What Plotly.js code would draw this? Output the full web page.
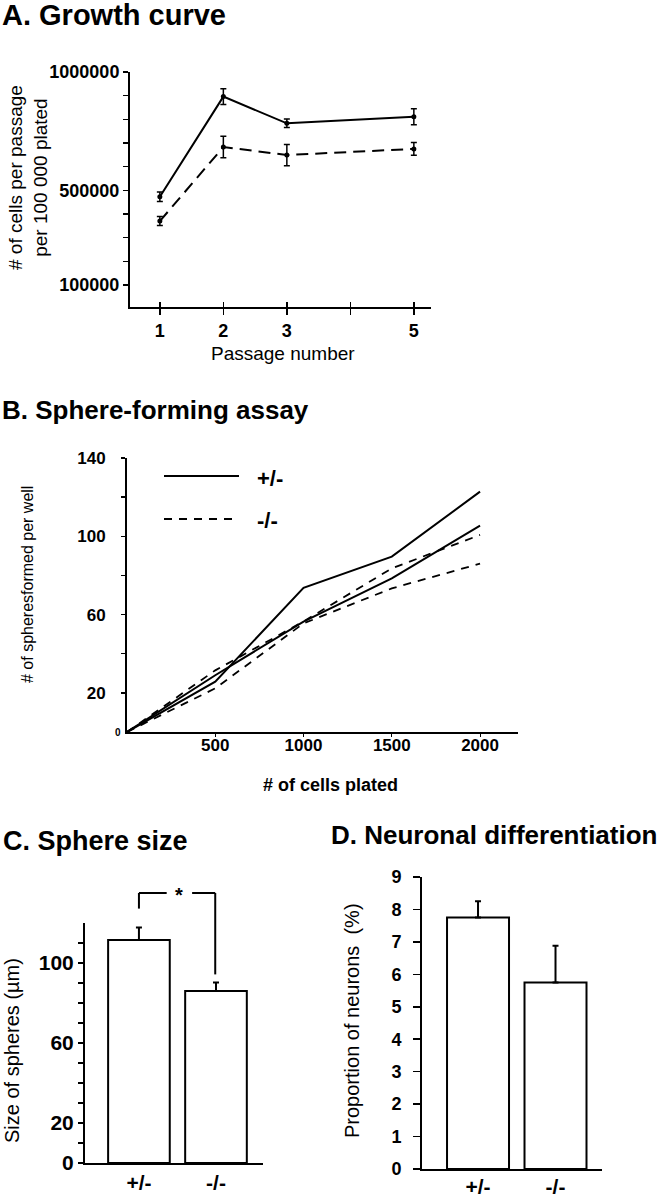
<!DOCTYPE html>
<html>
<head>
<meta charset="utf-8">
<script src="https://cdn.plot.ly/plotly-3.0.1.min.js"></script>
<style>
  body { margin: 0; background: #fff; }
  #chart { width: 660px; height: 1200px; }
</style>
</head>
<body>
<div id="chart"></div>
<script>
// A. Growth curve
var passage = [1, 2, 3, 5];
var growthHet = [473000, 896000, 783000, 811000];
var growthHetErr = [20000, 33000, 18000, 34000];
var growthKo = [370000, 683000, 649000, 675000];
var growthKoErr = [19000, 45000, 45000, 27000];
var passageTicks = [1, 2, 3, 4, 5];
var passageLabels = ['1', '2', '3', '', '5'];
var growthTicks = [100000, 200000, 300000, 400000, 500000, 600000, 700000, 800000, 900000, 1000000];
var growthLabels = ['100000', '', '', '', '500000', '', '', '', '', '1000000'];

// B. Sphere-forming assay
var cellsPlated = [0, 500, 1000, 1500, 2000];
var spheresHet1 = [0, 25.7, 73.7, 89.6, 122.8];
var spheresHet2 = [0, 29, 56.4, 78.5, 105.4];
var spheresKo1 = [0, 31.5, 56.5, 83.6, 100.7];
var spheresKo2 = [0, 22.3, 55.5, 73.4, 86];
var cellTicks = [500, 1000, 1500, 2000];
var sphereTicks = [20, 40, 60, 80, 100, 120, 140];
var sphereLabels = ['20', '', '60', '', '100', '', '140'];

// C. Sphere size / D. Neuronal differentiation
var genotypes = ['+/-', '-/-'];
var sphereSize = [111.5, 86];
var sphereSizeErr = [6.2, 4.3];
var sizeTicks = [0, 10, 20, 30, 40, 50, 60, 70, 80, 90, 100, 110];
var sizeLabels = ['0', '', '20', '', '', '', '60', '', '', '', '100', ''];
var neuronPct = [7.75, 5.75];
var neuronPctErr = [0.5, 1.13];

var F = 'Liberation Sans, Arial, Helvetica, sans-serif';
var W = 660, H = 1200;
function px(x) { return x / W; }
function py(y) { return 1 - y / H; }

var black = '#000';

var traces = [
  {
    x: passage, y: growthHet, xaxis: 'x', yaxis: 'y', mode: 'lines+markers',
    line: { color: black, width: 2 }, marker: { color: black, size: 5 },
    error_y: { type: 'data', array: growthHetErr, color: black, thickness: 1.5, width: 3 }
  },
  {
    x: passage, y: growthKo, xaxis: 'x', yaxis: 'y', mode: 'lines+markers',
    line: { color: black, width: 2, dash: '12px,7px' }, marker: { color: black, size: 5 },
    error_y: { type: 'data', array: growthKoErr, color: black, thickness: 1.5, width: 3 }
  },
  { x: [], y: [], xaxis: 'x5', yaxis: 'y', mode: 'lines' },
  {
    x: cellsPlated, y: spheresHet1, xaxis: 'x2', yaxis: 'y2', mode: 'lines',
    line: { color: black, width: 2 }
  },
  {
    x: cellsPlated, y: spheresHet2, xaxis: 'x2', yaxis: 'y2', mode: 'lines',
    line: { color: black, width: 2 }
  },
  {
    x: cellsPlated, y: spheresKo1, xaxis: 'x2', yaxis: 'y2', mode: 'lines',
    line: { color: black, width: 1.8, dash: '8px,7px' }
  },
  {
    x: cellsPlated, y: spheresKo2, xaxis: 'x2', yaxis: 'y2', mode: 'lines',
    line: { color: black, width: 1.8, dash: '8px,7px' }
  },
  {
    type: 'bar', x: genotypes, y: sphereSize, xaxis: 'x3', yaxis: 'y3', width: 0.8,
    marker: { color: '#fff', line: { color: black, width: 2 } },
    error_y: { type: 'data', symmetric: false, array: sphereSizeErr, arrayminus: [0, 0],
               color: black, thickness: 2, width: 3 }
  },
  {
    type: 'bar', x: genotypes, y: neuronPct, xaxis: 'x4', yaxis: 'y4', width: 0.8,
    marker: { color: '#fff', line: { color: black, width: 2 } },
    error_y: { type: 'data', symmetric: false, array: neuronPctErr, arrayminus: [0, 0],
               color: black, thickness: 2, width: 3 }
  }
];

function axis(extra) {
  var base = {
    showgrid: false, zeroline: false, showline: true, linecolor: black, linewidth: 2,
    ticks: 'outside', tickcolor: black, tickwidth: 1.5, ticklen: 5,
    tickfont: { family: F, size: 18, weight: 'bold', color: black }
  };
  for (var k in extra) base[k] = extra[k];
  return base;
}

var layout = {
  width: W, height: H,
  margin: { l: 0, r: 0, t: 0, b: 0 },
  paper_bgcolor: '#fff', plot_bgcolor: 'rgba(0,0,0,0)',
  showlegend: false,
  font: { family: F, color: black },
  xaxis: axis({ domain: [px(130), px(431)], range: [0.53, 5.27], anchor: 'y',
    tickmode: 'array', tickvals: passageTicks, ticktext: passageLabels, ticklen: 6, ticklabelstandoff: 0 }),
  xaxis5: axis({ domain: [px(130), px(431)], range: [0.53, 5.27], anchor: 'y', overlaying: 'x',
    tickmode: 'array', tickvals: passageTicks, ticks: 'inside', ticklen: 5, showticklabels: false, showline: false }),
  yaxis: axis({ domain: [py(307), py(72)], range: [7000, 1000000], anchor: 'x',
    tickmode: 'array', tickvals: growthTicks, ticktext: growthLabels, ticklen: 5 }),
  xaxis2: axis({ domain: [px(127), px(518)], range: [0, 2215], anchor: 'y2',
    tickmode: 'array', tickvals: cellTicks, ticklen: 3, tickwidth: 1,
    tickfont: { family: F, size: 17, weight: 'bold', color: black }, ticklabelstandoff: -6 }),
  yaxis2: axis({ domain: [py(732), py(458)], range: [0, 140], anchor: 'x2',
    tickmode: 'array', tickvals: sphereTicks, ticktext: sphereLabels, ticklen: 4,
    tickfont: { family: F, size: 17, weight: 'bold', color: black }, ticklabelstandoff: 12 }),
  xaxis3: axis({ domain: [px(85), px(263)], range: [-0.70, 1.61], anchor: 'y3', type: 'category',
    ticks: '', tickfont: { family: F, size: 21, weight: 'bold', color: black }, ticklabelstandoff: 0 }),
  yaxis3: axis({ domain: [py(1163), py(923)], range: [0, 120], anchor: 'x3',
    tickmode: 'array', tickvals: sizeTicks, ticktext: sizeLabels, ticklen: 5,
    tickfont: { family: F, size: 21, weight: 'bold', color: black } }),
  xaxis4: axis({ domain: [px(422), px(602)], range: [-0.723, 1.6], anchor: 'y4', type: 'category',
    ticks: '', tickfont: { family: F, size: 21, weight: 'bold', color: black }, ticklabelstandoff: -2 }),
  yaxis4: axis({ domain: [py(1169), py(877)], range: [0, 9], anchor: 'x4',
    tickmode: 'linear', tick0: 0, dtick: 1, ticklen: 7,
    tickfont: { family: F, size: 18, weight: 'bold', color: black }, ticklabelstandoff: 8 })
};

// paper y of a value on the sphere-size axis, for the significance bracket
function sizeToPaper(v) {
  var d = layout.yaxis3.domain, r = layout.yaxis3.range;
  return d[0] + (v - r[0]) / (r[1] - r[0]) * (d[1] - d[0]);
}
var bracketTop = 135;
var leftLegBottom = sphereSize[0] + sphereSizeErr[0] + 9.5;
var rightLegBottom = sphereSize[1] + sphereSizeErr[1] + 4;

function seg(x0, y0, x1, y1, dash, w, xref) {
  return { type: 'line', xref: xref || 'paper', yref: 'paper', x0: x0, y0: y0, x1: x1, y1: y1,
           line: { color: black, width: w || 2, dash: dash || 'solid' } };
}

layout.shapes = [
  // legend samples for panel B
  seg(px(164), py(476), px(239), py(476), 'solid', 2),
  seg(px(164), py(519), px(234), py(519), '8px,7px', 1.8),
  // significance bracket for panel C
  seg(0, sizeToPaper(leftLegBottom), 0, sizeToPaper(bracketTop), 'solid', 2, 'x3'),
  seg(0, sizeToPaper(bracketTop), 0.36, sizeToPaper(bracketTop), 'solid', 2, 'x3'),
  seg(0.69, sizeToPaper(bracketTop), 0.99, sizeToPaper(bracketTop), 'solid', 2, 'x3'),
  seg(0.99, sizeToPaper(bracketTop), 0.99, sizeToPaper(rightLegBottom), 'solid', 2, 'x3')
];

function note(text, x, y, size, bold, extra) {
  var a = { text: text, x: x, y: y, xref: 'paper', yref: 'paper', showarrow: false,
            xanchor: 'left', yanchor: 'middle',
            font: { family: F, size: size, color: black, weight: bold ? 'bold' : 'normal' } };
  for (var k in extra) a[k] = extra[k];
  return a;
}

layout.annotations = [
  note('A. Growth curve', px(0), py(15), 29, true),
  note('B. Sphere-forming assay', px(0), py(410), 26, true),
  note('C. Sphere size', px(1), py(841), 27, true),
  note('D. Neuronal differentiation', px(329), py(835), 26, true),

  note('# of cells per passage<br>per 100 000 plated', px(28), py(178), 19, false,
       { textangle: -90, xanchor: 'center' }),
  note('Passage number', px(283), py(353), 19, false, { xanchor: 'center' }),

  note('# of spheresformed per well', px(27), py(585), 16, false, { textangle: -90, xanchor: 'center' }),
  note('# of cells plated', px(330), py(785), 18, true, { xanchor: 'center' }),
  note('+/-', px(255), py(478), 22, true),
  note('-/-', px(255), py(520), 22, true),
  { text: '0', x: 0, y: 0, xref: 'x2', yref: 'y2', showarrow: false, xanchor: 'right', yanchor: 'middle',
    xshift: -4, font: { family: F, size: 10, weight: 'bold', color: black } },

  note('*', 0.525, sizeToPaper(bracketTop) - 0.002, 20, true, { xref: 'x3', xanchor: 'center' }),
  note('Size of spheres (\u00b5m)', px(12), py(1051), 20, false, { textangle: -90, xanchor: 'center' }),
  note('Proportion of neurons\u00a0 (%)', px(352), py(1021), 20, false, { textangle: -90, xanchor: 'center' })
];

Plotly.newPlot('chart', traces, layout, { displayModeBar: false, staticPlot: true });
</script>
</body>
</html>
